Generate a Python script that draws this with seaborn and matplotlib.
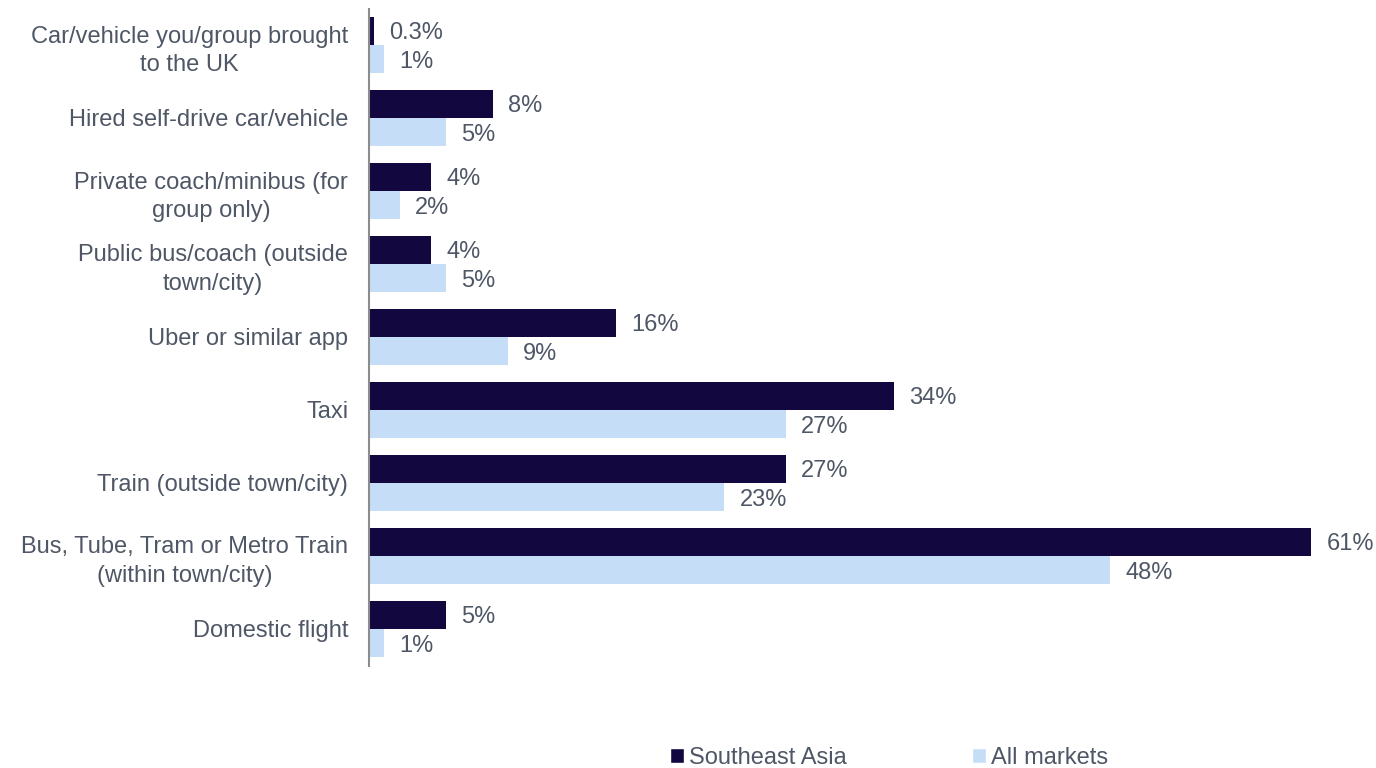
import matplotlib
matplotlib.use("Agg")
import matplotlib.pyplot as plt
from matplotlib.patches import Patch
import seaborn as sns
import pandas as pd

categories = [
    "Car/vehicle you/group brought\nto the UK",
    "Hired self-drive car/vehicle",
    "Private coach/minibus (for\ngroup only)",
    "Public bus/coach (outside\ntown/city)",
    "Uber or similar app",
    "Taxi",
    "Train (outside town/city)",
    "Bus, Tube, Tram or Metro Train\n(within town/city)",
    "Domestic flight",
]
southeast_asia = [0.3, 8, 4, 4, 16, 34, 27, 61, 5]
all_markets = [1, 5, 2, 5, 9, 27, 23, 48, 1]
series_names = ["Southeast Asia", "All markets"]
label_texts = {
    "Southeast Asia": ["0.3%", "8%", "4%", "4%", "16%", "34%", "27%", "61%", "5%"],
    "All markets": ["1%", "5%", "2%", "5%", "9%", "27%", "23%", "48%", "1%"],
}

dark = "#12083f"
light = "#c5ddf7"
text_color = "#4f5766"
fs = 17

df = pd.DataFrame({
    "category": categories * 2,
    "value": southeast_asia + all_markets,
    "series": [series_names[0]] * len(categories) + [series_names[1]] * len(categories),
})

sns.set_theme(style="white")
plt.rcParams["font.family"] = ["Liberation Sans", "DejaVu Sans"]

fig = plt.figure(figsize=(13.76, 7.68), dpi=100)
ax = fig.add_axes([369 / 1376, 1 - 665.5 / 768, (1311 - 369) / 1376, (665.5 - 8.5) / 768])

sns.barplot(
    data=df, y="category", x="value", hue="series", order=categories,
    hue_order=series_names, palette=[dark, light], width=0.78,
    orient="h", ax=ax, legend=False, saturation=1, linewidth=0,
)

for container, name in zip(ax.containers, series_names):
    for bar, txt in zip(container, label_texts[name]):
        ax.annotate(
            txt, xy=(bar.get_width(), bar.get_y() + bar.get_height() / 2),
            xytext=(11, 0), textcoords="offset points", va="center_baseline", ha="left",
            fontsize=fs, color=text_color, annotation_clip=False,
        )

ax.set_xlim(0, 61)
ax.set_ylim(len(categories) - 0.5, -0.5)
ax.set_xlabel("")
ax.set_ylabel("")
ax.set_xticks([])
ax.tick_params(axis="y", length=0, pad=15, labelsize=fs, labelcolor=text_color)
for lab in ax.get_yticklabels():
    lab.set_horizontalalignment("right")
    lab.set_multialignment("center")
    lab.set_linespacing(1.4)
for side in ["top", "right", "bottom"]:
    ax.spines[side].set_visible(False)
ax.spines["left"].set_color("#8c8c8c")
ax.spines["left"].set_linewidth(1.5)

handles = [Patch(facecolor=dark), Patch(facecolor=light)]
fig.legend(
    handles, series_names, loc="center", bbox_to_anchor=(889 / 1376, 1 - 758 / 768),
    ncol=2, frameon=False, fontsize=fs, labelcolor=text_color,
    handlelength=0.6, handleheight=0.6, handletextpad=0.2, columnspacing=5.3,
)

fig.savefig("out.png", dpi=100)
